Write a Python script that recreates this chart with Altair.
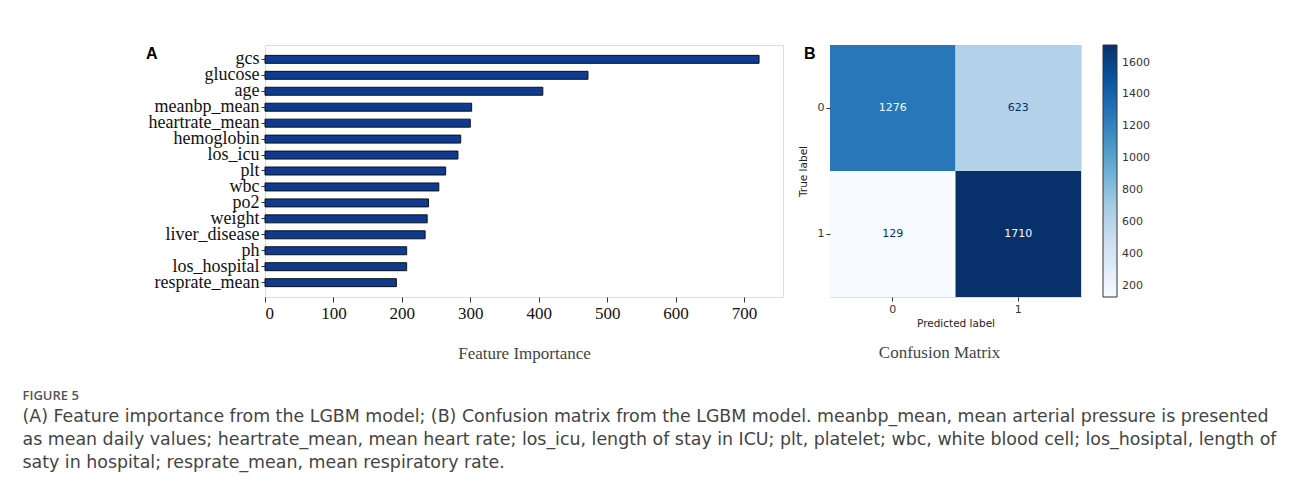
import altair as alt
import pandas as pd
import numpy as np

# ---------------- data ----------------
features = ["gcs", "glucose", "age", "meanbp_mean", "heartrate_mean", "hemoglobin",
            "los_icu", "plt", "wbc", "po2", "weight", "liver_disease", "ph",
            "los_hospital", "resprate_mean"]
importance = [722, 472, 406, 302, 300, 286, 282, 264, 254, 239, 237, 234, 207, 207, 192]

true_labels = ["0", "0", "1", "1"]
pred_labels = ["0", "1", "0", "1"]
counts = [1276, 623, 129, 1710]

importance_ticks = [0, 100, 200, 300, 400, 500, 600, 700]
colorbar_ticks = [200, 400, 600, 800, 1000, 1200, 1400, 1600]

caption_title = "FIGURE 5"
caption_lines = [
    "(A) Feature importance from the LGBM model; (B) Confusion matrix from the LGBM model. meanbp_mean, mean arterial pressure is presented",
    "as mean daily values; heartrate_mean, mean heart rate; los_icu, length of stay in ICU; plt, platelet; wbc, white blood cell; los_hosiptal, length of",
    "saty in hospital; resprate_mean, mean respiratory rate.",
]

blues = ["#f7fbff", "#deebf7", "#c6dbef", "#9ecae1", "#6baed6",
         "#4292c6", "#2171b5", "#08519c", "#08306b"]
cmin, cmax = min(counts), max(counts)
stops = list(np.linspace(cmin, cmax, len(blues)))

df_fi = pd.DataFrame({"feature": features, "importance": importance})
df_cm = pd.DataFrame({"true": true_labels, "pred": pred_labels, "count": counts})

SERIF = "Liberation Serif"
SANS = "DejaVu Sans"

# ---------------- panel A ----------------
bars = alt.Chart(df_fi).mark_bar(color="#0e3b8f", stroke="#111111", strokeWidth=1).encode(
    x=alt.X("importance:Q",
            scale=alt.Scale(domain=[0, 757], nice=False, zero=True),
            axis=alt.Axis(values=importance_ticks, title="Feature Importance", grid=False,
                          labelFont=SERIF, labelFontSize=17, labelColor="#111",
                          titleFont=SERIF, titleFontSize=17, titleFontWeight="normal",
                          titleColor="#444", titlePadding=24, tickSize=5,
                          tickColor="#333", domain=False, labelPadding=3)),
    y=alt.Y("feature:N", sort=features,
            scale=alt.Scale(paddingInner=0.5, paddingOuter=0.65),
            axis=alt.Axis(title=None, labelFont=SERIF, labelFontSize=18,
                          labelColor="#111", tickSize=4, tickColor="#333",
                          domain=False, labelPadding=2)),
)

label_a = alt.Chart(pd.DataFrame({"t": ["A"]})).mark_text(
    font="Liberation Sans", fontSize=16, fontWeight="bold", color="#000",
    align="left", baseline="top",
).encode(text="t:N", x=alt.value(-119), y=alt.value(1))

panel_a = alt.layer(bars, label_a).properties(width=518, height=252)

# ---------------- panel B ----------------
base = alt.Chart(df_cm).encode(
    x=alt.X("pred:N", scale=alt.Scale(paddingInner=0, paddingOuter=0),
            axis=alt.Axis(title="Predicted label", labelAngle=0, labelFont=SANS,
                          labelFontSize=11, labelColor="#333", titleFont=SANS,
                          titleFontSize=10.5, titleFontWeight="normal",
                          titleColor="#222", titlePadding=4, tickSize=4,
                          tickColor="#333", domain=False, labelPadding=2)),
    y=alt.Y("true:N", scale=alt.Scale(paddingInner=0, paddingOuter=0),
            axis=alt.Axis(title="True label", labelAngle=0, labelFont=SANS,
                          labelFontSize=11, labelColor="#333", titleFont=SANS,
                          titleFontSize=10.5, titleFontWeight="normal",
                          titleColor="#222", titlePadding=9, tickSize=4,
                          tickColor="#333", domain=False, labelPadding=2)),
)

cells = base.mark_rect().encode(
    color=alt.Color("count:Q",
                    scale=alt.Scale(domain=stops, range=blues),
                    legend=alt.Legend(title=None, orient="right", offset=21, padding=0,
                                      gradientLength=252, gradientThickness=14,
                                      values=colorbar_ticks, format="d", labelFont=SANS,
                                      labelFontSize=11, labelColor="#333",
                                      labelOffset=5, labelOverlap=False,
                                      gradientStrokeColor="#333",
                                      gradientStrokeWidth=1)),
)

numbers = base.mark_text(font=SANS, fontSize=11).encode(
    text=alt.Text("count:Q"),
    color=alt.condition(f"datum['count'] > {(cmin + cmax) / 2}",
                        alt.value("#f7fbff"), alt.value("#08306b")),
)

label_b = alt.Chart(pd.DataFrame({"t": ["B"]})).mark_text(
    font="Liberation Sans", fontSize=16, fontWeight="bold", color="#000",
    align="left", baseline="top",
).encode(text="t:N", x=alt.value(-26), y=alt.value(1))

heat = alt.layer(cells, numbers, label_b).properties(
    width=251, height=252,
    title=alt.TitleParams("Confusion Matrix", orient="bottom", anchor="middle",
                          frame="bounds", font=SERIF, fontSize=17,
                          fontWeight="normal", color="#444", offset=16),
)

chart = alt.hconcat(panel_a, heat, spacing=13).properties(
    title=alt.TitleParams(caption_title, subtitle=caption_lines, orient="bottom",
                          anchor="start", frame="bounds", dx=-123, offset=28,
                          font="Open Sans", fontSize=13, fontWeight=600,
                          color="#555", subtitleFont="DejaVu Sans",
                          subtitleFontSize=17.4, subtitleColor="#444",
                          subtitleLineHeight=23, subtitlePadding=5),
    padding={"left": 14, "top": 36, "right": 5, "bottom": 5},
).configure_view(stroke="#333", strokeWidth=1).configure(background="white")

chart.save("out.html", embed_options={"renderer": "svg", "actions": False})
